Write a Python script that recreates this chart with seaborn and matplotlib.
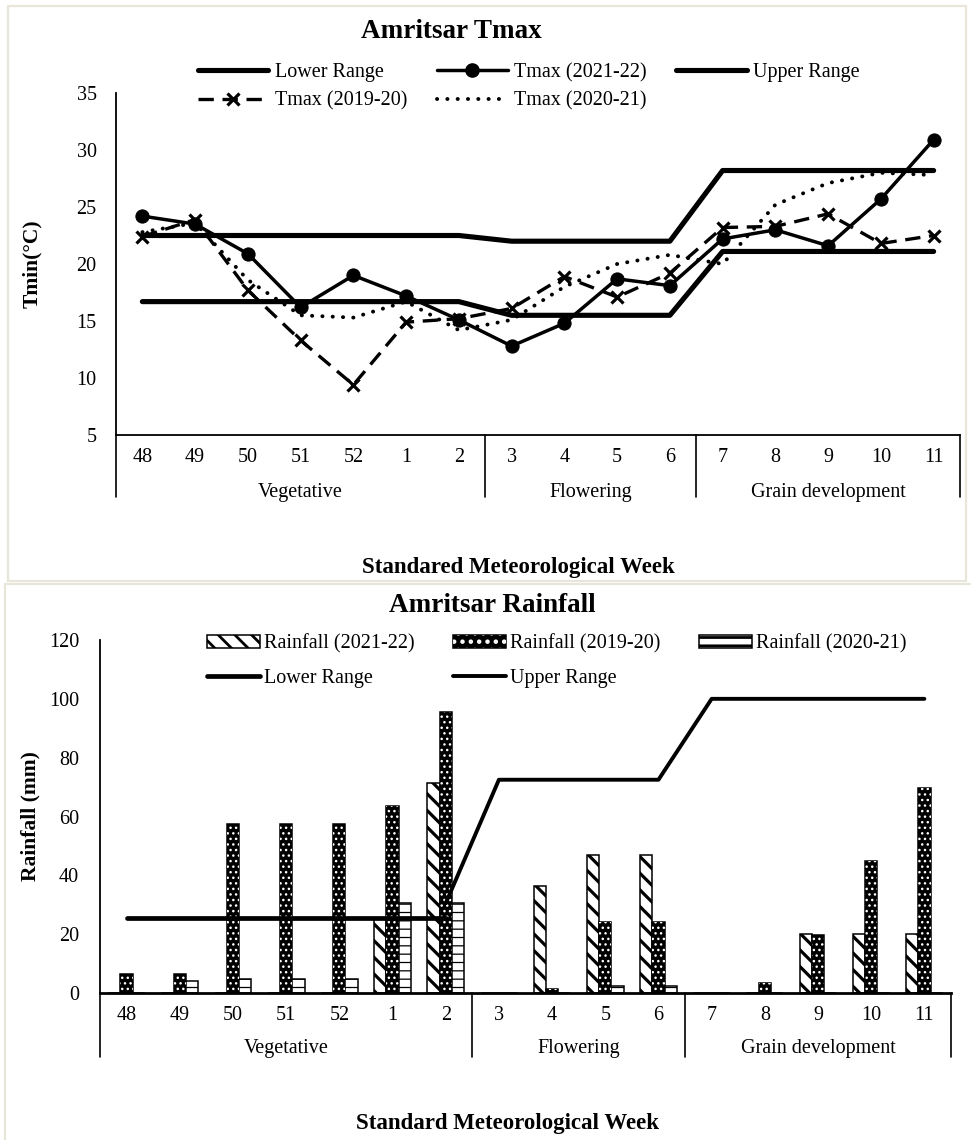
import matplotlib
matplotlib.use("Agg")
import numpy as np
import pandas as pd
import matplotlib.pyplot as plt
import seaborn as sns
from matplotlib.lines import Line2D
from matplotlib.patches import Patch, Rectangle
from matplotlib.legend_handler import HandlerTuple

# ---------------------------------------------------------------- data
weeks = ["48", "49", "50", "51", "52", "1", "2", "3", "4", "5", "6",
         "7", "8", "9", "10", "11"]
stages = ["Vegetative", "Flowering", "Grain development"]
stage_lengths = [7, 4, 5]

# Maximum temperature (°C)
tmax_lower = [16.7, 16.7, 16.7, 16.7, 16.7, 16.7, 16.7, 15.5, 15.5, 15.5, 15.5,
              21.1, 21.1, 21.1, 21.1, 21.1]
tmax_upper = [22.5, 22.5, 22.5, 22.5, 22.5, 22.5, 22.5, 22.0, 22.0, 22.0, 22.0,
              28.2, 28.2, 28.2, 28.2, 28.2]
tmax_2021_22 = [24.2, 23.5, 20.9, 16.2, 19.0, 17.2, 15.1, 12.8, 14.8, 18.7, 18.1,
                22.2, 23.0, 21.6, 25.7, 30.9]
tmax_2019_20 = [22.4, 23.9, 17.7, 13.3, 9.4, 14.9, 15.2, 16.1, 18.9, 17.1, 19.2,
                23.2, 23.3, 24.4, 21.8, 22.5]
tmax_2020_21 = [22.8, 23.6, 18.6, 15.5, 15.3, 16.7, 14.2, 15.1, 18.0, 20.0, 20.8,
                20.0, 25.2, 27.1, 28.0, 27.8]

# Weekly rainfall (mm)
rain_2021_22 = [0, 0, 0, 0, 0, 25.0, 71.5, 0, 36.5, 47.0, 47.0, 0, 0, 20.0, 20.0, 20.0]
rain_2019_20 = [6.5, 6.5, 57.5, 57.5, 57.5, 63.5, 95.5, 0, 1.5, 24.0, 24.0, 0, 3.5,
                19.7, 44.8, 69.8]
rain_2020_21 = [0, 4.0, 4.6, 4.6, 4.6, 30.5, 30.5, 0, 0, 2.3, 2.3, 0, 0, 0, 0, 0]
rain_lower = [25.5, 25.5, 25.5, 25.5, 25.5, 25.5, 25.5, np.nan, np.nan, np.nan,
              np.nan, np.nan, np.nan, np.nan, np.nan, np.nan]
rain_upper = [np.nan, np.nan, np.nan, np.nan, np.nan, np.nan, 30.5, 72.5, 72.5,
              72.5, 72.5, 100, 100, 100, 100, 100]

seasons = ["Rainfall (2021-22)", "Rainfall (2019-20)", "Rainfall (2020-21)"]

# ---------------------------------------------------------------- style
sns.set_theme(style="white")
plt.rcParams["font.family"] = ["Liberation Serif", "DejaVu Serif"]
plt.rcParams.update({
    "text.color": "black", "axes.labelcolor": "black",
    "xtick.color": "black", "ytick.color": "black",
    "axes.edgecolor": "black", "hatch.linewidth": 2.0,
})

TICK_FS = 14.5
LEG_FS = 14.5

W, H = 971, 1140
fig = plt.figure(figsize=(W / 100, H / 100), dpi=100)
fig.patch.set_facecolor("white")


def px_axes(left, top, right, bottom):
    return fig.add_axes([left / W, 1 - bottom / H, (right - left) / W, (bottom - top) / H])


def fx(x):
    return x / W


def fy(y):
    return 1 - y / H


def set_hatch_lw(patch, lw):
    if hasattr(patch, "set_hatch_linewidth"):
        patch.set_hatch_linewidth(lw)


# light frames around the two panels
for (l, t, r, b) in [(8, 6, 966, 581), (5, 584, 978, 1148)]:
    fig.patches.append(Rectangle((fx(l), fy(b)), (r - l) / W, (b - t) / H,
                                 transform=fig.transFigure, fill=False,
                                 edgecolor="#e8e5d9", linewidth=1.6, zorder=0))

pos = np.arange(len(weeks))


def stage_axis(ax, depth_frac, label_frac, ypad):
    """Two-level category axis: week numbers plus crop-stage groups."""
    ax.set_xlim(-0.5, len(weeks) - 0.5)
    ax.set_xticks(pos)
    ax.set_xticklabels(weeks, fontsize=TICK_FS)
    ax.tick_params(axis="both", length=0)
    ax.tick_params(axis="x", pad=9)
    ax.tick_params(axis="y", pad=ypad, labelsize=TICK_FS)
    tr = ax.get_xaxis_transform()
    bounds = np.concatenate([[0], np.cumsum(stage_lengths)]) - 0.5
    for b in bounds:
        ax.add_line(Line2D([b, b], [0, -depth_frac], transform=tr, color="black",
                           linewidth=1.2, clip_on=False))
    for name, a, b in zip(stages, bounds[:-1], bounds[1:]):
        ax.text((a + b) / 2, -label_frac, name, transform=tr, ha="center",
                va="center", fontsize=TICK_FS)
    for side in ["top", "right"]:
        ax.spines[side].set_visible(False)
    for side in ["left", "bottom"]:
        ax.spines[side].set_linewidth(1.3)
    ax.set_xlabel("")
    ax.grid(False)


# ================================================================ Tmax panel
ax1 = px_axes(116, 93, 960, 435)
tdf = pd.DataFrame({"pos": pos, "lower": tmax_lower, "upper": tmax_upper,
                    "t2122": tmax_2021_22, "t1920": tmax_2019_20, "t2021": tmax_2020_21})

range_kw = dict(color="black", linewidth=3.7, solid_capstyle="round",
                solid_joinstyle="round", legend=False)
sns.lineplot(data=tdf, x="pos", y="lower", ax=ax1, **range_kw)
sns.lineplot(data=tdf, x="pos", y="t2122", ax=ax1, color="black", linewidth=2.5,
             marker="o", markersize=9.5, markerfacecolor="black",
             markeredgecolor="black", solid_joinstyle="round", legend=False)
sns.lineplot(data=tdf, x="pos", y="upper", ax=ax1, **range_kw)
sns.lineplot(data=tdf, x="pos", y="t1920", ax=ax1, color="black", linewidth=2.4,
             linestyle=(0, (4.6, 2.6)), marker="x", markersize=9,
             markeredgewidth=2.3, markeredgecolor="black", legend=False)
sns.lineplot(data=tdf, x="pos", y="t2021", ax=ax1, color="black", linewidth=2.8,
             linestyle=(0, (0.05, 2.6)), dash_capstyle="round", legend=False)

ax1.set_ylim(5, 35)
ax1.set_yticks(np.arange(5, 36, 5))
stage_axis(ax1, depth_frac=62 / 342, label_frac=57 / 342, ypad=14)
ax1.set_ylabel("Tmin(°C)", fontsize=15.5, fontweight="bold")
ax1.yaxis.set_label_coords((42 - 116) / 844, 0.5)

t_handles = [
    Line2D([], [], color="black", linewidth=3.7, solid_capstyle="round"),
    Line2D([], [], color="black", linewidth=2.4, linestyle=(0, (4.6, 2.6)),
           marker="x", markersize=9, markeredgewidth=2.3),
    Line2D([], [], color="black", linewidth=2.5, marker="o", markersize=9.5),
    Line2D([], [], color="black", linewidth=2.8, linestyle=(0, (0.05, 2.6)),
           dash_capstyle="round"),
    Line2D([], [], color="black", linewidth=3.7, solid_capstyle="round"),
]
t_labels = ["Lower Range", "Tmax (2019-20)", "Tmax (2021-22)", "Tmax (2020-21)",
            "Upper Range"]
ax1.legend(t_handles, t_labels, ncol=3, loc="upper left",
           bbox_to_anchor=(fx(198), fy(63)), bbox_transform=fig.transFigure,
           frameon=False, fontsize=LEG_FS, handlelength=3.5, handletextpad=0.3,
           columnspacing=1.5, labelspacing=0.45, borderpad=0, borderaxespad=0)

fig.text(fx(451), fy(32), "Amritsar Tmax", ha="center", va="center",
         fontsize=19.5, fontweight="bold")
fig.text(fx(518), fy(567), "Standared Meteorological Week", ha="center",
         va="center", fontsize=16.5, fontweight="bold")

# ================================================================ Rainfall panel
ax2 = px_axes(100, 640, 951, 993)
rdf = pd.DataFrame({
    "week": weeks * 3,
    "rain": rain_2021_22 + rain_2019_20 + rain_2020_21,
    "season": [s for s in seasons for _ in weeks],
})
sns.barplot(data=rdf, x="week", y="rain", hue="season", order=weeks,
            hue_order=seasons, palette=["white", "black", "white"], saturation=1,
            edgecolor="black", linewidth=1.1, width=0.69, gap=0, errorbar=None,
            legend=False, ax=ax2)

hatched, dotted, dashed = ax2.containers[:3]
for bar in hatched:
    bar.set_hatch("\\\\")
    set_hatch_lw(bar, 2.3)
for bar in dashed:
    bar.set_hatch("--")
    set_hatch_lw(bar, 0.9)
for bar in dotted:
    dots = Rectangle(bar.get_xy(), bar.get_width(), bar.get_height(),
                     facecolor="none", edgecolor="white", hatch="...",
                     linewidth=0, zorder=bar.get_zorder() + 0.1)
    set_hatch_lw(dots, 1.0)
    ax2.add_patch(dots)

ldf = pd.DataFrame({"pos": pos, "lower": rain_lower, "upper": rain_upper})
sns.lineplot(data=ldf, x="pos", y="lower", ax=ax2, color="black", linewidth=3.4,
             solid_capstyle="round", solid_joinstyle="round", legend=False)
sns.lineplot(data=ldf, x="pos", y="upper", ax=ax2, color="black", linewidth=2.8,
             solid_capstyle="round", solid_joinstyle="round", legend=False)

ax2.set_ylim(0, 120)
ax2.set_yticks(np.arange(0, 121, 20))
stage_axis(ax2, depth_frac=64 / 353, label_frac=55 / 353, ypad=15)
ax2.spines["bottom"].set_linewidth(2.0)
ax2.set_ylabel("Rainfall (mm)", fontsize=15.5, fontweight="bold")
ax2.yaxis.set_label_coords((40 - 100) / 851, 0.5)

p_hatch = Patch(facecolor="white", edgecolor="black", hatch="\\\\", linewidth=1.1)
set_hatch_lw(p_hatch, 2.3)
p_black = Patch(facecolor="black", edgecolor="black", linewidth=1.1)
p_dots = Patch(facecolor="none", edgecolor="white", hatch="..", linewidth=0)
set_hatch_lw(p_dots, 0.8)
p_dash = Patch(facecolor="white", edgecolor="black", hatch="--", linewidth=1.1)
set_hatch_lw(p_dash, 0.9)
r_handles = [
    p_hatch,
    Line2D([], [], color="black", linewidth=3.4, solid_capstyle="round"),
    (p_black, p_dots),
    Line2D([], [], color="black", linewidth=2.8, solid_capstyle="round"),
    p_dash,
]
r_labels = ["Rainfall (2021-22)", "Lower Range", "Rainfall (2019-20)", "Upper Range",
            "Rainfall (2020-21)"]
ax2.legend(r_handles, r_labels, ncol=3, loc="upper left",
           bbox_to_anchor=(fx(207), fy(634)), bbox_transform=fig.transFigure,
           frameon=False, fontsize=LEG_FS, handlelength=2.64, handleheight=0.6,
           handletextpad=0.2, columnspacing=1.9, labelspacing=0.75, borderpad=0,
           borderaxespad=0, handler_map={tuple: HandlerTuple(ndivide=1, pad=0)})

fig.text(fx(492), fy(605), "Amritsar Rainfall", ha="center", va="center",
         fontsize=19.5, fontweight="bold")
fig.text(fx(508), fy(1124), "Standard Meteorological Week", ha="center",
         va="center", fontsize=16.5, fontweight="bold")

fig.savefig("out.png", dpi=100, facecolor="white")
